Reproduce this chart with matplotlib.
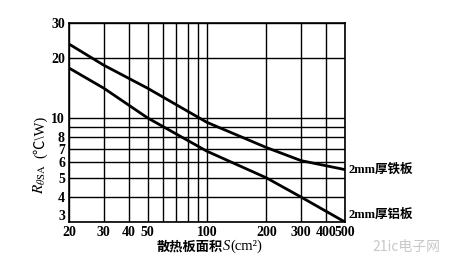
import matplotlib.pyplot as plt
from matplotlib.ticker import FixedLocator, NullFormatter
from matplotlib.offsetbox import TextArea, HPacker, AnchoredOffsetbox

plt.rcParams['font.family'] = ['Liberation Serif', 'Noto Sans CJK SC', 'DejaVu Sans']
plt.rcParams['mathtext.fontset'] = 'stix'

# area S (cm^2) and thermal resistance R (C/W)
area = [20, 30, 50, 100, 200, 300, 500]
r_iron = [23.5, 18.4, 14.1, 9.5, 7.1, 6.1, 5.5]
r_alu = [17.8, 14.1, 10.0, 6.8, 5.0, 4.0, 3.0]

x_grid = [20, 30, 40, 50, 60, 70, 80, 90, 100, 200, 300, 400, 500]
x_labels = [20, 30, 40, 50, 100, 200, 300, 400, 500]
y_grid = [3, 4, 5, 6, 7, 8, 9, 10, 20, 30]
y_labels = [3, 4, 5, 6, 7, 8, 10, 20, 30]

fig = plt.figure(figsize=(4.49, 2.74), dpi=100)
ax = fig.add_axes([0.154, 0.19, 0.614, 0.726])
ax.set_xscale('log')
ax.set_yscale('log')
ax.set_xlim(20, 500)
ax.set_ylim(3, 30)

for v in x_grid:
    ax.axvline(v, color='black', lw=1.0)
for v in y_grid:
    ax.axhline(v, color='black', lw=1.0)

ax.plot(area, r_iron, color='black', lw=2.0)
ax.plot(area, r_alu, color='black', lw=2.0)

ax.xaxis.set_major_locator(FixedLocator(x_labels))
ax.xaxis.set_minor_locator(FixedLocator([]))
ax.set_xticklabels([str(v) for v in x_labels])
ax.yaxis.set_major_locator(FixedLocator(y_labels))
ax.yaxis.set_minor_locator(FixedLocator([]))
ax.yaxis.set_minor_formatter(NullFormatter())
# bottom label "3" is drawn a bit higher, as in the original
ax.set_yticklabels(['' if v == y_labels[0] else str(v) for v in y_labels])
ax.text(-0.012, y_labels[0] * 1.07, str(y_labels[0]), transform=ax.get_yaxis_transform(),
        ha='right', va='center', fontsize=10, fontweight='bold')
ax.tick_params(length=0, labelsize=10)
ax.tick_params(axis='x', pad=3)
ax.tick_params(axis='y', pad=3)
for lab in ax.get_xticklabels() + ax.get_yticklabels():
    lab.set_fontweight('bold')
for s in ax.spines.values():
    s.set_linewidth(1.2)

ax.text(1.015, r_iron[-1], '2mm厚铁板', transform=ax.get_yaxis_transform(),
        va='center', ha='left', fontsize=9, fontweight='bold')
ax.text(1.015, 3.25, '2mm厚铝板', transform=ax.get_yaxis_transform(),
        va='center', ha='left', fontsize=9, fontweight='bold')

# x label: Chinese part + italic S + (cm²)
parts = HPacker(children=[
    TextArea('散热板面积', textprops=dict(fontsize=9.5, fontweight='bold')),
    TextArea('S', textprops=dict(fontsize=10.5, style='italic')),
    TextArea('(cm²)', textprops=dict(fontsize=10.5)),
], align='baseline', pad=0, sep=0)
box = AnchoredOffsetbox(loc='center', child=parts, frameon=False, pad=0,
                        bbox_to_anchor=(0.466, 0.1), bbox_transform=fig.transFigure,
                        borderpad=0)
fig.add_artist(box)

# y label: R_thetaSA (C\W)
ax.text(-0.105, 0.215, r'$R_{\theta\mathrm{SA}}$', transform=ax.transAxes,
        rotation=90, ha='center', va='center', fontsize=11)
ax.text(-0.105, 0.43, '(℃\\W)', transform=ax.transAxes,
        rotation=90, ha='center', va='center', fontsize=10.5)

fig.text(0.83, 0.085, '21ic电子网', color='#c8c8c8', fontsize=10,
         family=['Noto Sans CJK SC', 'DejaVu Sans'])

fig.savefig('out.png', dpi=100)
